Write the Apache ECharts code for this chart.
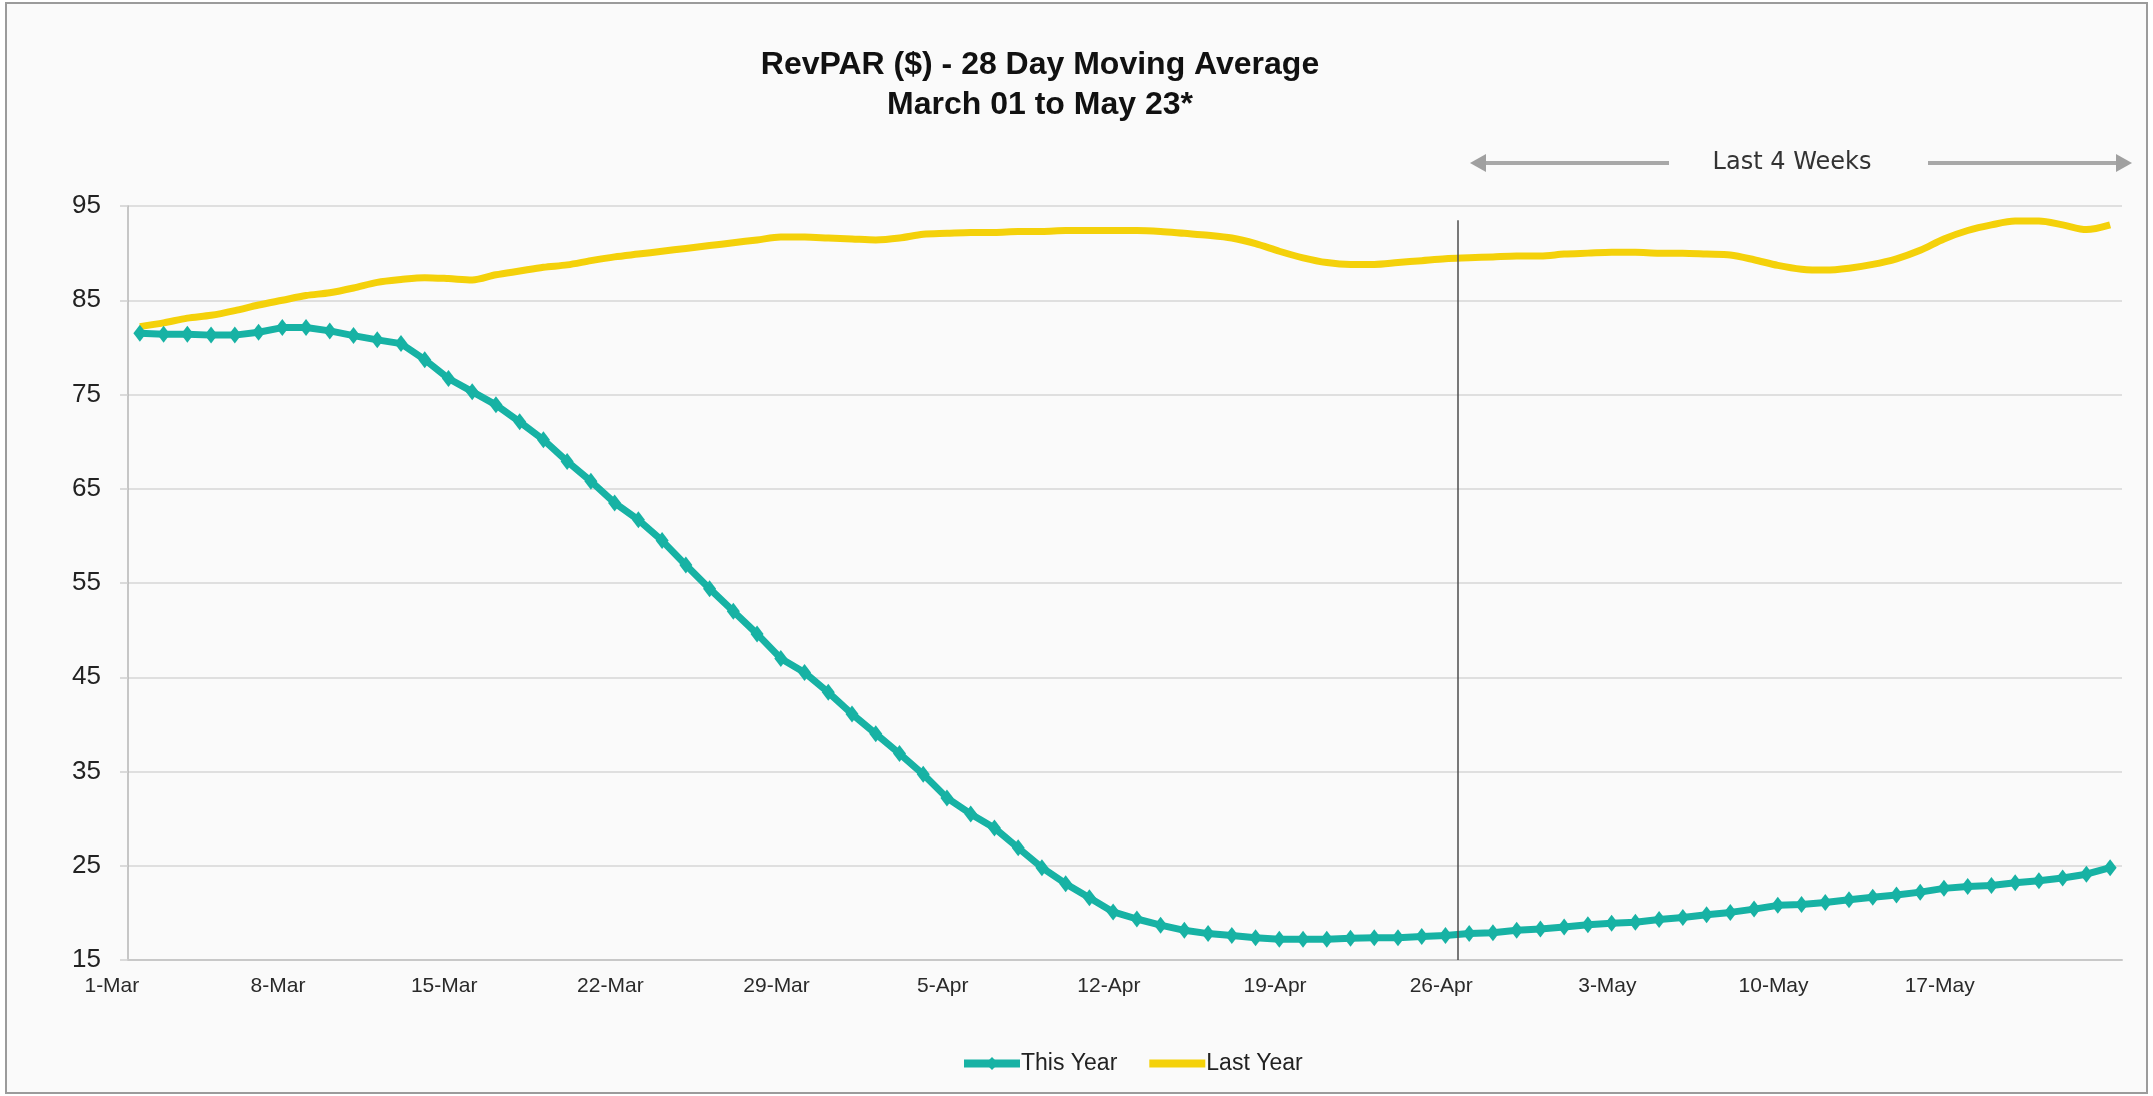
<!DOCTYPE html>
<html>
<head>
<meta charset="utf-8">
<title>RevPAR ($) - 28 Day Moving Average</title>
<script src="https://cdn.jsdelivr.net/npm/echarts@6/dist/echarts.min.js"></script>
<style>
  html, body { margin: 0; padding: 0; background: #ffffff; }
  #revparChart { width: 2153px; height: 1096px; }
</style>
</head>
<body>
<div id="revparChart"></div>
<script>
// one category per day, 1-Mar .. 23-May
const days = [
  '1-Mar','2-Mar','3-Mar','4-Mar','5-Mar','6-Mar','7-Mar','8-Mar','9-Mar','10-Mar',
  '11-Mar','12-Mar','13-Mar','14-Mar','15-Mar','16-Mar','17-Mar','18-Mar','19-Mar','20-Mar',
  '21-Mar','22-Mar','23-Mar','24-Mar','25-Mar','26-Mar','27-Mar','28-Mar','29-Mar','30-Mar',
  '31-Mar','1-Apr','2-Apr','3-Apr','4-Apr','5-Apr','6-Apr','7-Apr','8-Apr','9-Apr',
  '10-Apr','11-Apr','12-Apr','13-Apr','14-Apr','15-Apr','16-Apr','17-Apr','18-Apr','19-Apr',
  '20-Apr','21-Apr','22-Apr','23-Apr','24-Apr','25-Apr','26-Apr','27-Apr','28-Apr','29-Apr',
  '30-Apr','1-May','2-May','3-May','4-May','5-May','6-May','7-May','8-May','9-May',
  '10-May','11-May','12-May','13-May','14-May','15-May','16-May','17-May','18-May','19-May',
  '20-May','21-May','22-May','23-May'
];

const thisYear = [
  81.5, 81.4, 81.4, 81.3, 81.3, 81.6, 82.1, 82.1, 81.75, 81.25,
  80.8, 80.4, 78.7, 76.7, 75.3, 73.9, 72.1, 70.2, 67.9, 65.8,
  63.5, 61.7, 59.5, 56.9, 54.4, 52.0, 49.6, 47.0, 45.5, 43.4,
  41.1, 39.0, 36.9, 34.7, 32.2, 30.5, 29.0, 26.9, 24.8, 23.1,
  21.6, 20.1, 19.35, 18.7, 18.15, 17.8, 17.6, 17.35, 17.2, 17.2,
  17.2, 17.3, 17.35, 17.35, 17.5, 17.6, 17.8, 17.9, 18.15, 18.3,
  18.5, 18.75, 18.9, 19.0, 19.3, 19.5, 19.8, 20.05, 20.4, 20.8,
  20.9, 21.1, 21.4, 21.65, 21.9, 22.2, 22.6, 22.8, 22.9, 23.2,
  23.4, 23.7, 24.1, 24.8
];

const lastYear = [
  82.2, 82.6, 83.1, 83.4, 83.9, 84.5, 85.0, 85.5, 85.8, 86.3,
  86.9, 87.2, 87.4, 87.3, 87.15, 87.7, 88.1, 88.5, 88.75, 89.2,
  89.6, 89.9, 90.2, 90.5, 90.8, 91.1, 91.4, 91.7, 91.7, 91.6,
  91.5, 91.4, 91.6, 92.0, 92.1, 92.2, 92.2, 92.3, 92.3, 92.4,
  92.4, 92.4, 92.4, 92.3, 92.1, 91.9, 91.6, 91.0, 90.2, 89.5,
  89.0, 88.8, 88.8, 89.0, 89.2, 89.4, 89.5, 89.6, 89.7, 89.7,
  89.9, 90.0, 90.1, 90.1, 90.0, 90.0, 89.9, 89.8, 89.3, 88.7,
  88.3, 88.2, 88.4, 88.8, 89.4, 90.3, 91.5, 92.4, 93.0, 93.4,
  93.4, 93.0, 92.5, 93.0
];

// start of the "Last 4 Weeks" window (day index of 26-Apr)
const lastFourWeeksStart = 56;

const teal = '#17b2a4';
const yellow = '#f4d10a';
const fontFamily = '"Liberation Sans", Arial, sans-serif';

let chart = echarts.init(document.getElementById('revparChart'));

let options = {
  animation: false,
  textStyle: { fontFamily: fontFamily },
  title: {
    text: 'RevPAR ($) - 28 Day Moving Average\nMarch 01 to May 23*',
    left: 1035,
    top: 40,
    textAlign: 'center',
    textStyle: {
      fontSize: 32,
      fontWeight: 'bold',
      color: '#111111',
      lineHeight: 40,
      fontFamily: fontFamily
    }
  },
  legend: {
    data: [
      { name: 'This Year' },
      { name: 'Last Year', icon: 'path://M0,0H56V8H0Z' }
    ],
    left: 955,
    top: 1047,
    itemWidth: 56,
    itemHeight: 16,
    itemGap: 32,
    lineStyle: { width: 8 },
    textStyle: { fontSize: 23, color: '#222222', padding: [0, 0, 0, -4] }
  },
  grid: {
    left: 128,
    right: 31,
    top: 206,
    bottom: 136
  },
  xAxis: [
    {
      type: 'category',
      data: days,
      boundaryGap: true,
      axisLine: { lineStyle: { color: '#c8c8c8', width: 2 } },
      axisTick: {
        interval: 6,
        length: 8,
        lineStyle: { color: '#c8c8c8', width: 1.5 }
      },
      axisLabel: {
        interval: 6,
        fontSize: 21,
        color: '#2a2a2a',
        margin: 16,
        padding: [0, 56, 0, 0]
      },
      splitLine: { show: false }
    },
    {
      // hidden day-index axis used only to place the vertical divider
      type: 'value',
      min: 0,
      max: days.length,
      show: false
    }
  ],
  yAxis: {
    type: 'value',
    min: 15,
    max: 95,
    interval: 10,
    axisLine: { show: true, lineStyle: { color: '#b4b4b4', width: 1.5 } },
    axisTick: { show: true, length: 8, lineStyle: { color: '#cfcfcf', width: 1.5 } },
    axisLabel: { fontSize: 26, color: '#222222', margin: 27 },
    splitLine: { lineStyle: { color: '#d6d6d6', width: 1.5 } }
  },
  series: [
    {
      name: 'This Year',
      type: 'line',
      data: thisYear,
      symbol: 'diamond',
      symbolSize: [13, 17],
      showAllSymbol: true,
      lineStyle: { color: teal, width: 7 },
      itemStyle: { color: teal },
      z: 3
    },
    {
      name: 'Last Year',
      type: 'line',
      data: lastYear,
      smooth: 0.3,
      showSymbol: false,
      symbol: 'none',
      lineStyle: { color: yellow, width: 7 },
      itemStyle: { color: yellow },
      z: 2
    },
    {
      name: 'divider',
      type: 'line',
      xAxisIndex: 1,
      data: [],
      markLine: {
        silent: true,
        symbol: ['none', 'none'],
        label: { show: false },
        lineStyle: { color: '#4d4d4d', width: 1.5, type: 'solid' },
        data: [[
          { coord: [lastFourWeeksStart, 93.5] },
          { coord: [lastFourWeeksStart, 15] }
        ]]
      }
    }
  ],
  graphic: [
    {
      type: 'rect',
      z: -10,
      silent: true,
      shape: { x: 6, y: 3, width: 2141, height: 1090 },
      style: { fill: '#fafafa', stroke: '#9b9b9b', lineWidth: 2 }
    },
    {
      type: 'line',
      shape: { x1: 1482, y1: 163, x2: 1669, y2: 163 },
      style: { stroke: '#a8a8a8', lineWidth: 4 }
    },
    {
      type: 'polygon',
      shape: { points: [[1470, 163], [1486, 154], [1486, 172]] },
      style: { fill: '#a0a0a0' }
    },
    {
      type: 'line',
      shape: { x1: 1928, y1: 163, x2: 2118, y2: 163 },
      style: { stroke: '#a8a8a8', lineWidth: 4 }
    },
    {
      type: 'polygon',
      shape: { points: [[2132, 163], [2116, 154], [2116, 172]] },
      style: { fill: '#a0a0a0' }
    },
    {
      type: 'text',
      style: {
        text: 'Last 4 Weeks',
        x: 1792,
        y: 163,
        align: 'center',
        verticalAlign: 'middle',
        textAlign: 'center',
        textVerticalAlign: 'middle',
        fontSize: 24,
        fontFamily: '"DejaVu Sans", Verdana, sans-serif',
        fill: '#333333'
      }
    }
  ]
};

chart.setOption(options);
</script>
</body>
</html>
